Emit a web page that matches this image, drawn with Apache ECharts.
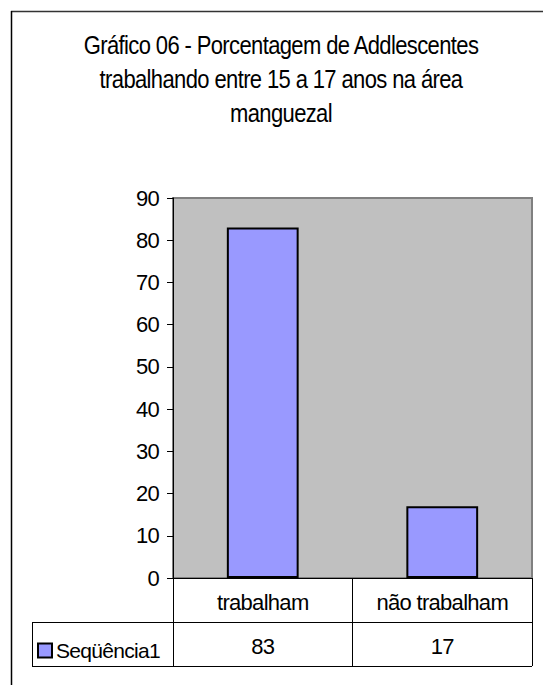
<!DOCTYPE html>
<html>
<head>
<meta charset="utf-8">
<script src="https://cdn.jsdelivr.net/npm/echarts@6/dist/echarts.min.js"></script>
<style>
html,body{margin:0;padding:0;background:#fff;}
#chart{width:543px;height:685px;}
#chart svg text{letter-spacing:-0.7px;}
</style>
</head>
<body>
<div id="chart"></div>
<script>
const titleLines = ["Gráfico 06 - Porcentagem de Addlescentes", "trabalhando entre 15 a 17 anos na área", "manguezal"];
const categories = ["trabalham", "não trabalham"];
const seriesName = "Seqüência1";
const values = [83, 17];
const yTicks = {min: 0, max: 90, interval: 10};

const FONT = "'Liberation Sans', Arial, sans-serif";
const chart = echarts.init(document.getElementById('chart'), null, {renderer: 'svg'});

const L = 173, R = 532, T = 198, B = 578, ROW1 = 622, ROW2 = 666, TL = 32;

chart.setOption({
  backgroundColor: '#fff',
  animation: false,
  textStyle: {fontFamily: FONT},
  legend: {
    data: [seriesName],
    left: 32, top: 635,
    icon: 'rect', itemWidth: 14, itemHeight: 14, itemGap: 0,
    textStyle: {fontFamily: FONT, fontSize: 21, color: '#000', padding: [0,0,0,-1]},
    itemStyle: {borderColor: '#000', borderWidth: 2}
  },
  grid: {
    left: L, top: T, right: 543 - R, bottom: 685 - B,
    show: true, backgroundColor: '#c0c0c0', borderColor: '#808080', borderWidth: 2
  },
  xAxis: [{
    type: 'category', data: categories, position: 'bottom',
    axisLine: {show: true, lineStyle: {color: '#000', width: 1}},
    axisTick: {show: true, length: ROW2 - B, inside: false, interval: 0, lineStyle: {color: '#000', width: 1}},
    axisLabel: {margin: 13, fontFamily: FONT, fontSize: 22, color: '#000', interval: 0}
  }, {
    type: 'category', data: values.map(String), position: 'bottom', offset: ROW1 - B,
    axisLine: {show: false}, axisTick: {show: false},
    axisLabel: {margin: 13, fontFamily: FONT, fontSize: 22, color: '#000', interval: 0}
  }],
  yAxis: {
    type: 'value', min: yTicks.min, max: yTicks.max, interval: yTicks.interval,
    axisLine: {show: true, lineStyle: {color: '#000', width: 1}},
    axisTick: {show: true, length: 6, lineStyle: {color: '#000'}},
    splitLine: {show: false},
    axisLabel: {margin: 14, fontFamily: FONT, fontSize: 22, color: '#000'}
  },
  series: [{
    name: seriesName, type: 'bar', data: values, barWidth: '40%', xAxisIndex: 0,
    itemStyle: {color: '#9999ff', borderColor: '#000', borderWidth: 2}
  }],
  graphic: [
    {type: 'text', x: 281, y: 29, scaleX: 0.88,
     style: {text: titleLines.join('\n'), textAlign: 'center', font: "25px 'Liberation Sans', Arial, sans-serif", lineHeight: 34, fill: '#000'}},
    {type: 'line', shape: {x1: 11, y1: 11.5, x2: 543, y2: 11.5}, style: {stroke: '#333', lineWidth: 1.5}},
    {type: 'line', shape: {x1: 11.5, y1: 11, x2: 11.5, y2: 685}, style: {stroke: '#000', lineWidth: 1.5}},
    {type: 'line', shape: {x1: TL, y1: ROW1 + 0.5, x2: R, y2: ROW1 + 0.5}, style: {stroke: '#000', lineWidth: 1}},
    {type: 'line', shape: {x1: TL, y1: ROW2 + 0.5, x2: R, y2: ROW2 + 0.5}, style: {stroke: '#000', lineWidth: 1}},
    {type: 'line', shape: {x1: TL + 0.5, y1: ROW1, x2: TL + 0.5, y2: ROW2}, style: {stroke: '#000', lineWidth: 1}}
  ]
});
</script>
</body>
</html>
